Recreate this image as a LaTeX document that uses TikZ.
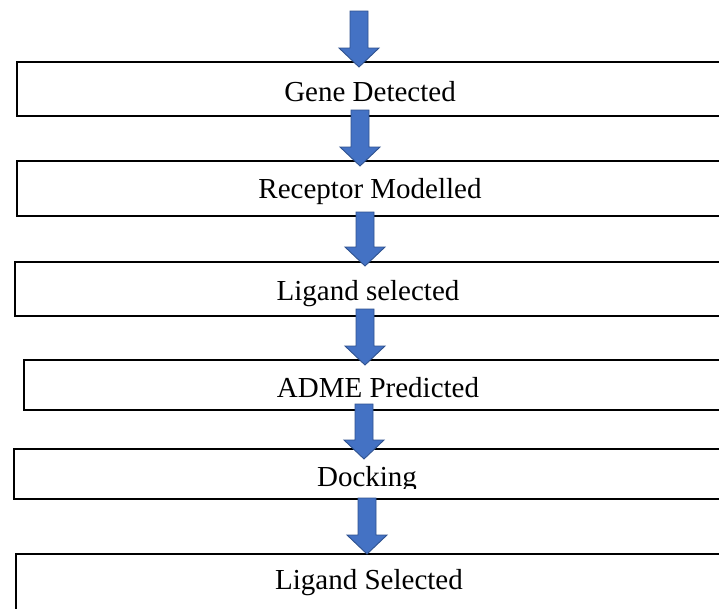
\documentclass[tikz,border=0pt]{standalone}
\usepackage{fontspec}
\setmainfont{Liberation Serif}
\definecolor{arrfill}{HTML}{4472C4}
\definecolor{arrline}{HTML}{2F528F}
\newcommand\blockarrow[3]{% #1 centre x, #2 shaft top y, #3 tip y
  \draw[barrow] (#1-9,#2) -- (#1+9,#2) -- (#1+9,#3-19) -- (#1+20,#3-19) -- (#1,#3)
    -- (#1-20,#3-19) -- (#1-9,#3-19) -- cycle;}
\begin{document}
\begin{tikzpicture}[x=1pt,y=-1pt,
  stepbox/.style={draw=black, line width=2pt, fill=white, inner sep=0pt, anchor=north west,
    minimum width=760pt},
  label/.style={inner sep=0pt, anchor=base, font=\fontsize{29}{34}\selectfont},
  barrow/.style={fill=arrfill, draw=arrline, line width=0.9pt, line join=miter}]
\clip (0,0) rectangle (719,608);
\fill[white] (0,0) rectangle (719,608);
% boxes
\node[stepbox, minimum height=54pt] (b1) at (16,61) {};
\node[stepbox, minimum height=55pt] (b2) at (16,160) {};
\node[stepbox, minimum height=54pt] (b3) at (14,261) {};
\node[stepbox, minimum height=50pt] (b4) at (23,359) {};
\node[stepbox, minimum height=50pt] (b5) at (13,448) {};
\node[stepbox, minimum height=80pt] (b6) at (15,553) {};
% labels
\node[label] (t1) at (370,101) {Gene Detected};
\node[label] (t2) at (370,198) {Receptor Modelled};
\node[label] (t3) at (368,300) {Ligand selected};
\node[label] (t4) at (378,397) {ADME Predicted};
\begin{scope}
  \clip (13,448) rectangle (719,488.5);
  \node[label] (t5) at (367,486) {Docking};
\end{scope}
\node[label] (t6) at (369,589) {Ligand Selected};
% arrows
\blockarrow{359}{11}{67}
\blockarrow{360}{110}{166}
\blockarrow{365}{212}{266}
\blockarrow{365}{309}{365}
\blockarrow{364}{404}{459}
\blockarrow{367}{498}{554}
\end{tikzpicture}
\end{document}
